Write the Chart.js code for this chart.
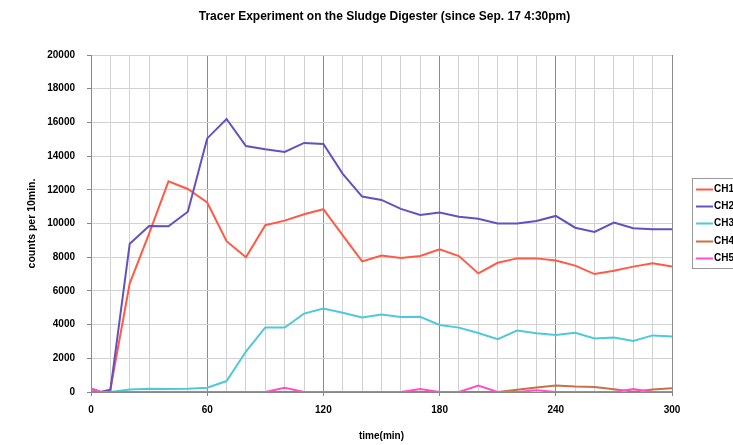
<!DOCTYPE html>
<html><head><meta charset="utf-8">
<script src="https://cdn.jsdelivr.net/npm/chart.js@4/dist/chart.umd.min.js"></script>
<style>html,body{margin:0;padding:0;background:#fff;overflow:hidden}#wrap{width:733px;height:445px;position:relative}</style>
</head><body><div id="wrap"><canvas id="c" width="733" height="445"></canvas></div>
<script>
const chartTitle = 'Tracer Experiment on the Sludge Digester (since Sep. 17 4:30pm)';
const xTitle = 'time(min)';
const yTitle = 'counts per 10min.';
const seriesNames = ['CH1', 'CH2', 'CH3', 'CH4', 'CH5'];
const xTickLabels = [0, 60, 120, 180, 240, 300];
const times = [0, 5, 10, 20, 30, 40, 50, 60, 70, 80, 90, 100, 110, 120, 130, 140, 150, 160, 170, 180, 190, 200, 210, 220, 230, 240, 250, 260, 270, 280, 290, 300];
const ch1 = [200, 0, 150, 6450, 9400, 12500, 12050, 11250, 8950, 8000, 9900, 10170, 10550, 10850, 9300, 7750, 8100, 7950, 8070, 8470, 8070, 7040, 7670, 7930, 7930, 7800, 7500, 7000, 7200, 7440, 7640, 7440];
const ch2 = [200, 0, 100, 8800, 9850, 9830, 10700, 15050, 16200, 14600, 14400, 14250, 14780, 14720, 12950, 11600, 11400, 10870, 10500, 10650, 10400, 10280, 10000, 10000, 10150, 10450, 9750, 9500, 10050, 9720, 9660, 9660];
const ch3 = [0, 0, 0, 150, 200, 180, 200, 250, 650, 2400, 3830, 3830, 4650, 4960, 4700, 4420, 4600, 4450, 4460, 3980, 3820, 3500, 3140, 3650, 3480, 3380, 3520, 3180, 3240, 3030, 3360, 3300];
const ch4 = [0, 0, 0, 0, 0, 0, 0, 0, 0, 0, 0, 0, 0, 0, 0, 0, 0, 0, 0, 0, 0, 0, 0, 130, 270, 390, 320, 290, 170, 20, 150, 220];
const ch5 = [200, 0, 0, 0, 0, 0, 0, 0, 0, 0, 0, 250, 0, 0, 0, 0, 0, 0, 170, 0, 0, 380, 0, 0, 100, 0, 0, 0, 0, 170, 0, 0];
const seriesValues = [ch1, ch2, ch3, ch4, ch5];
const seriesColors = ['#ff5a46', '#6650be', '#50c8dc', '#c87046', '#ff50c8'];

const FONT = '"Liberation Sans", Arial, sans-serif';

const titleDraw = {
  id: 'titleDraw',
  afterDraw(chart) {
    const ctx = chart.ctx;
    ctx.save();
    ctx.fillStyle = '#000';
    ctx.font = 'bold 12px ' + FONT;
    ctx.textAlign = 'center';
    ctx.textBaseline = 'middle';
    ctx.fillText(chartTitle, 384.5, 17);
    ctx.restore();
  }
};

const boxLegend = {
  id: 'boxLegend',
  afterDraw(chart) {
    const ctx = chart.ctx;
    const x0 = 692, y0 = 178, rowH = 17.2;
    ctx.save();
    ctx.fillStyle = '#fff';
    ctx.fillRect(x0, y0, 60, rowH * 5 + 4);
    ctx.strokeStyle = '#999';
    ctx.lineWidth = 1;
    ctx.strokeRect(x0 + 0.5, y0 + 0.5, 60, rowH * 5 + 4);
    chart.data.datasets.forEach((ds, i) => {
      const y = Math.round(y0 + 11 + i * rowH) + 0.5;
      ctx.strokeStyle = ds.borderColor;
      ctx.lineWidth = 2;
      ctx.beginPath();
      ctx.moveTo(x0 + 4, y);
      ctx.lineTo(x0 + 21, y);
      ctx.stroke();
      ctx.fillStyle = '#000';
      ctx.font = 'bold 10px ' + FONT;
      ctx.textBaseline = 'middle';
      ctx.textAlign = 'left';
      ctx.fillText(ds.label, x0 + 22, y);
    });
    ctx.restore();
  }
};

const datasets = seriesNames.map((name, i) => ({
  label: name,
  data: times.map((t, j) => ({ x: t, y: seriesValues[i][j] })),
  borderColor: seriesColors[i],
  backgroundColor: seriesColors[i],
  borderWidth: 2,
  pointRadius: 0,
  tension: 0,
  fill: false,
  order: -i
}));

new Chart(document.getElementById('c'), {
  type: 'line',
  data: { datasets },
  plugins: [boxLegend, titleDraw],
  options: {
    responsive: false,
    devicePixelRatio: 1,
    animation: false,
    layout: { padding: { left: 0, right: 61, top: 55, bottom: 0 } },
    plugins: {
      legend: { display: false },
      tooltip: { enabled: false },
      title: { display: false }
    },
    scales: {
      x: {
        type: 'linear', min: 0, max: 300,
        afterFit(s) { s.height = 53; },
        ticks: {
          stepSize: 10, autoSkip: false, maxRotation: 0, color: '#000', padding: 8,
          font: { family: FONT, size: 10, weight: 'bold' },
          callback: v => xTickLabels.includes(v) ? String(v) : ''
        },
        grid: {
          color: c => (c.tick && c.tick.value % 60 === 0) ? '#8c8c8c' : ((c.tick && c.tick.value === 40) ? 'rgba(0,0,0,0)' : '#d2d2d2'),
          tickColor: c => (c.tick && c.tick.value % 60 === 0) ? '#888' : 'rgba(0,0,0,0)',
          tickLength: 4, lineWidth: 1
        },
        border: { color: '#888', width: 1 },
        title: {
          display: true, text: xTitle, color: '#000',
          font: { family: FONT, size: 10, weight: 'bold' },
          padding: { top: 0, bottom: 3 }
        }
      },
      y: {
        min: 0, max: 20000,
        afterFit(s) { s.width = 91; },
        ticks: {
          stepSize: 2000, color: '#000', padding: 12,
          font: { family: FONT, size: 10, weight: 'bold' },
          callback: v => String(v)
        },
        grid: { color: '#d2d2d2', tickColor: '#888', tickLength: 4, lineWidth: 1 },
        border: { color: '#888', width: 1 },
        title: {
          display: true, text: yTitle, color: '#000',
          font: { family: FONT, size: 10.5, weight: 'bold' },
          padding: { top: 26, bottom: 0 }
        }
      }
    }
  }
});
</script>
</body></html>
